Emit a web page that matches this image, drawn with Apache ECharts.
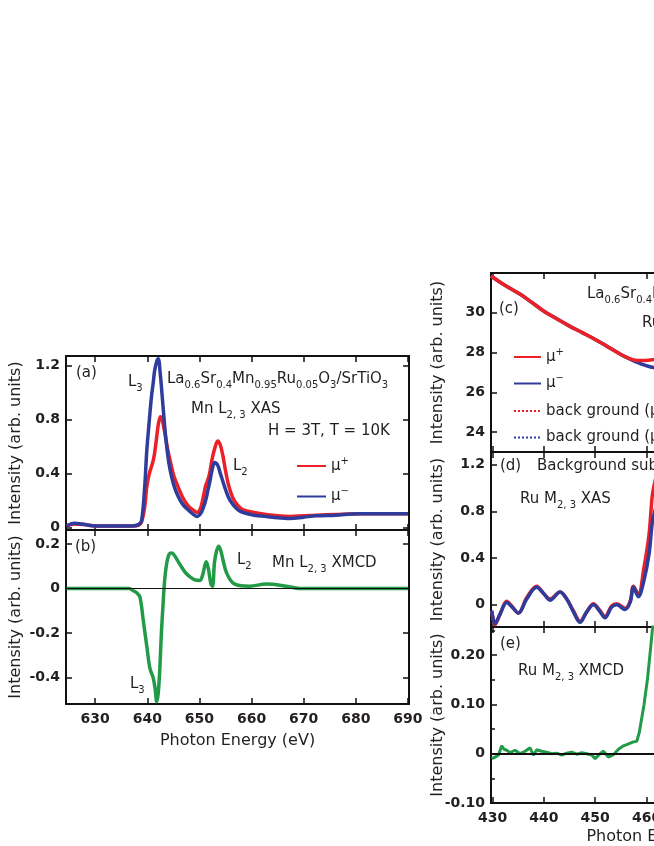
<!DOCTYPE html>
<html><head><meta charset="utf-8">
<script src="https://cdn.jsdelivr.net/npm/echarts@6/dist/echarts.min.js"></script>
<style>html,body{margin:0;padding:0;background:#fff}#c{width:654px;height:846px}</style>
</head><body><div id="c"></div>
<script>
// ---------------- data ----------------
// (a) Mn L2,3 XAS
const mnEnergy = [624.5,626,628,630,634,637,638.3,638.9,639.5,639.9,640.4,640.8,641.1,641.4,641.8,642.1,642.5,642.9,643.4,643.9,644.4,645.1,645.9,646.8,647.8,648.7,649.6,650.2,650.7,651.2,651.6,652.0,652.4,652.9,653.5,654.0,654.5,655.0,655.6,656.4,657.4,658.4,660.5,662.8,665,667.3,670,672.4,676,680.7,685,690];
const mnMuPlus  = [0.01,0.025,0.02,0.01,0.01,0.01,0.015,0.04,0.15,0.30,0.40,0.45,0.49,0.55,0.67,0.76,0.82,0.79,0.69,0.58,0.49,0.38,0.30,0.22,0.16,0.13,0.11,0.14,0.22,0.31,0.35,0.41,0.50,0.58,0.64,0.61,0.53,0.42,0.31,0.22,0.16,0.13,0.11,0.095,0.085,0.08,0.085,0.09,0.095,0.10,0.10,0.10];
const mnMuMinus = [0.01,0.03,0.02,0.01,0.01,0.01,0.02,0.05,0.30,0.57,0.80,0.97,1.06,1.16,1.23,1.25,1.13,0.95,0.72,0.54,0.42,0.31,0.23,0.17,0.13,0.10,0.08,0.10,0.14,0.20,0.27,0.34,0.42,0.48,0.46,0.40,0.34,0.28,0.22,0.17,0.13,0.11,0.09,0.08,0.07,0.065,0.075,0.085,0.09,0.10,0.10,0.10];
// (b) Mn L2,3 XMCD
const mnXmcdEnergy = [624.5,630,636.5,637.3,638.0,638.6,639.2,639.9,640.5,641.1,641.5,641.8,642.1,642.4,642.7,643.0,643.3,643.7,644.2,644.7,645.3,646.2,647.5,649.0,650.1,650.6,651.0,651.3,651.7,652.2,652.5,652.9,653.3,653.7,654.1,654.6,655.2,656.4,658,659.6,662.8,666.7,669.2,680,690];
const mnXmcd = [0,0,0,-0.01,-0.02,-0.04,-0.14,-0.26,-0.36,-0.40,-0.45,-0.51,-0.47,-0.36,-0.20,-0.08,0.03,0.11,0.155,0.16,0.145,0.11,0.066,0.04,0.036,0.06,0.10,0.12,0.09,0.02,0.01,0.12,0.17,0.19,0.17,0.12,0.07,0.025,0.012,0.01,0.02,0.01,0,0,0];
// (c) Ru M2,3 raw XAS and background
const ruEnergy = [429.7,432,435.4,437.5,440,442.5,445,447.5,450,452.5,455,456.5,457.5,459,460.5,461.5,462.5];
const ruRawPlus  = [31.85,31.45,30.93,30.55,30.08,29.7,29.33,29.0,28.66,28.28,27.9,27.72,27.63,27.6,27.62,27.65,27.75];
const ruRawMinus = [31.85,31.45,30.93,30.55,30.08,29.7,29.33,29.0,28.66,28.28,27.9,27.7,27.58,27.42,27.3,27.25,27.3];
const ruBgPlus   = [31.85,31.45,30.93,30.55,30.08,29.7,29.33,29.0,28.66,28.28,27.9,27.73,27.62,27.46,27.3,27.2,27.1];
const ruBgMinus  = [31.84,31.44,30.92,30.54,30.07,29.69,29.32,28.99,28.65,28.27,27.89,27.72,27.61,27.45,27.29,27.19,27.09];
// (d) background subtracted Ru M2,3 XAS
const ruSubEnergy = [429.84,430.49,431.46,432.76,433.73,435.03,436.65,438.6,439.9,441.2,443.15,444.45,445.75,447.05,448.35,449.65,450.95,451.9,453.2,454.2,455.8,456.8,457.45,458.4,459.5,460.5,461.1,461.6,462.2];
const ruSubPlus  = [-0.05,-0.17,-0.08,0.03,-0.01,-0.07,0.06,0.16,0.10,0.05,0.11,0.05,-0.05,-0.14,-0.06,0.01,-0.05,-0.10,-0.01,0.01,-0.03,0.03,0.16,0.09,0.32,0.61,0.93,1.05,1.15];
const ruSubMinus = [-0.05,-0.16,-0.08,0.02,-0.015,-0.07,0.05,0.15,0.10,0.04,0.11,0.05,-0.06,-0.15,-0.06,0.0,-0.06,-0.11,-0.02,0.0,-0.04,0.02,0.15,0.07,0.21,0.44,0.70,0.80,0.90];
// (e) Ru M2,3 XMCD
const ruXmcdEnergy = [429.84,430.49,431.14,431.79,432.24,432.76,433.41,434.39,435.36,436.34,437.31,437.96,438.61,439.58,440.56,441.53,442.51,443.48,444.46,445.43,446.41,447.38,448.36,449.33,449.98,450.96,451.6,452.58,453.55,454.53,455.5,456.48,457.45,458.1,458.6,459.5,460.2,460.8,461.3,461.8];
const ruXmcd = [-0.01,-0.007,-0.003,0.016,0.009,0.007,0.002,0.007,0,0.005,0.012,-0.003,0.008,0.005,0.003,0,0.001,-0.003,0.001,0.003,-0.001,0.002,0,-0.003,-0.01,0,0.005,-0.007,-0.002,0.009,0.016,0.02,0.024,0.025,0.044,0.099,0.153,0.215,0.27,0.32];
// tick values
const mnEnergyTicks = [630,640,650,660,670,680,690];
const ruEnergyTicks = [430,440,450,460,470,480,490];
const ticksA = [0,0.4,0.8,1.2];
const ticksB = [-0.4,-0.2,0,0.2];
const ticksC = [24,26,28,30];
const ticksD = [0,0.4,0.8,1.2];
const ticksE = [-0.1,0,0.1,0.2];
const minorE = [-0.05,0.05,0.15,0.25];

// ---------------- styling ----------------
const FF = 'DejaVu Sans';
const INK = '#231f20';
const RED = '#ec2027', BLUE = '#2e3d9c', GREEN = '#229a48';
const zip = (xs, ys) => xs.map((x, i) => [x, ys[i]]);

const gridsDef = [
  {left: 66, top: 356, width: 343, height: 174},   // a
  {left: 66, top: 530, width: 343, height: 174},   // b
  {left: 491, top: 273, width: 346, height: 179},  // c (continues past the page edge)
  {left: 491, top: 452, width: 346, height: 175},  // d
  {left: 491, top: 627, width: 346, height: 176}   // e
].map(g => Object.assign(g, {outerBoundsMode: 'none', containLabel: false}));
const xRange = [[624.4, 690.2], [624.4, 690.2], [429.7, 497.1], [429.7, 497.1], [429.7, 497.1]];
const yRange = [[-0.02, 1.27], [-0.52, 0.263], [23, 32], [-0.19, 1.31], [-0.1, 0.257]];
const yTicks = [ticksA, ticksB, ticksC, ticksD, ticksE];
const yFmt = [
  v => v === 0 ? '0' : v.toFixed(1),
  v => v === 0 ? '0' : v.toFixed(1),
  v => String(Math.round(v)),
  v => v === 0 ? '0' : v.toFixed(1),
  v => v === 0 ? '0' : v.toFixed(2)
];
const labelFont = {fontFamily: FF, fontSize: 14, fontWeight: 'bold', color: INK};
const nameFont = {fontFamily: FF, fontSize: 16, color: INK};
const lineAx = {show: true, onZero: false, lineStyle: {color: '#111', width: 2}};

const xAxes = [], yAxes = [];
gridsDef.forEach((g, i) => {
  const xt = i < 2 ? mnEnergyTicks : ruEnergyTicks;
  const bottomLabels = (i === 1 || i === 4);
  ['bottom', 'top'].forEach(pos => {
    const named = pos === 'bottom' && bottomLabels;
    xAxes.push({
      type: 'value', gridIndex: i, position: pos, min: xRange[i][0], max: xRange[i][1],
      axisLine: lineAx,
      axisTick: {show: true, inside: true, length: 6, lineStyle: {color: '#111', width: 1.5}, customValues: xt},
      axisLabel: {show: named, customValues: xt, margin: 8, showMinLabel: true, showMaxLabel: true, hideOverlap: false, ...labelFont},
      splitLine: {show: false},
      name: named ? 'Photon Energy (eV)' : '',
      nameLocation: 'middle', nameGap: i === 1 ? 29 : 26, nameMoveOverlap: false, nameTextStyle: nameFont
    });
  });
  ['left', 'right'].forEach(pos => {
    yAxes.push({
      type: 'value', gridIndex: i, position: pos, min: yRange[i][0], max: yRange[i][1],
      axisLine: lineAx,
      axisTick: {show: true, inside: true, length: 6, lineStyle: {color: '#111', width: 1.5}, customValues: yTicks[i]},
      axisLabel: {show: pos === 'left', customValues: yTicks[i], formatter: yFmt[i], margin: 6, showMinLabel: true, showMaxLabel: true, hideOverlap: false, ...labelFont},
      splitLine: {show: false},
      name: pos === 'left' ? 'Intensity (arb. units)' : '',
      nameLocation: 'middle', nameGap: i < 2 ? 42 : 45, nameMoveOverlap: false, nameTextStyle: nameFont
    });
  });
});
// minor ticks on panel (e)
yAxes.push({
  type: 'value', gridIndex: 4, position: 'left', min: yRange[4][0], max: yRange[4][1],
  axisLine: {show: false},
  axisTick: {show: true, inside: true, length: 4, lineStyle: {color: '#111', width: 1.5}, customValues: minorE},
  axisLabel: {show: false}, splitLine: {show: false}
});
const xi = g => g * 2;      // bottom x axis index of grid g
const yi = g => g * 2;      // left y axis index of grid g

const lineSeries = (name, g, data, color, width, extra) => Object.assign({
  name, type: 'line', xAxisIndex: xi(g), yAxisIndex: yi(g), data,
  showSymbol: false, symbol: 'none', smooth: 0.35,
  lineStyle: {color, width}, itemStyle: {color}, emphasis: {disabled: true}
}, extra || {});

const zeroLine = w => ({silent: true, symbol: 'none', label: {show: false},
  lineStyle: {color: '#111', width: w, type: 'solid'}, data: [{yAxis: 0}]});

const series = [
  lineSeries('muPlusMn', 0, zip(mnEnergy, mnMuPlus), RED, 3.5),
  lineSeries('muMinusMn', 0, zip(mnEnergy, mnMuMinus), BLUE, 3.5),
  lineSeries('xmcdMn', 1, zip(mnXmcdEnergy, mnXmcd), GREEN, 3.5, {markLine: zeroLine(1.2), z: 3}),
  lineSeries('bgPlus', 2, zip(ruEnergy, ruBgPlus), RED, 2, {lineStyle: {color: RED, width: 2, type: 'dotted'}}),
  lineSeries('bgMinus', 2, zip(ruEnergy, ruBgMinus), BLUE, 2, {lineStyle: {color: BLUE, width: 2, type: 'dotted'}}),
  lineSeries('muMinusRu', 2, zip(ruEnergy, ruRawMinus), BLUE, 3.5),
  lineSeries('muPlusRu', 2, zip(ruEnergy, ruRawPlus), RED, 3.5),
  lineSeries('subPlus', 3, zip(ruSubEnergy, ruSubPlus), RED, 3.5),
  lineSeries('subMinus', 3, zip(ruSubEnergy, ruSubMinus), BLUE, 3.5),
  lineSeries('xmcdRu', 4, zip(ruXmcdEnergy, ruXmcd), GREEN, 3, {smooth: false, markLine: zeroLine(2)})
];

const legendRich = {
  n: {fontFamily: FF, fontSize: 15, color: INK, lineHeight: 20, verticalAlign: 'middle'},
  p: {fontFamily: FF, fontSize: 10, color: INK, lineHeight: 10, verticalAlign: 'top'}
};
const legendText = {
  muPlusMn: '{n|μ}{p|+}', muMinusMn: '{n|μ}{p|−}',
  muPlusRu: '{n|μ}{p|+}', muMinusRu: '{n|μ}{p|−}',
  bgPlus: '{n|back ground (μ}{p|+}{n|)}', bgMinus: '{n|back ground (μ}{p|−}{n|)}'
};
const mkLegend = (names, left, top, itemWidth, gap) => ({
  data: names, left, top, orient: 'vertical', itemWidth, itemHeight: 14, itemGap: gap,
  selectedMode: false, padding: 0, formatter: n => legendText[n],
  itemStyle: {opacity: 0},
  textStyle: {rich: legendRich, padding: [0, 0, 0, 0]}
});

// ---------------- annotations ----------------
const rich = {
  n: {fontFamily: FF, fontSize: 15, fill: INK, lineHeight: 22, verticalAlign: 'middle'},
  s: {fontFamily: FF, fontSize: 10, fill: INK, lineHeight: 10, verticalAlign: 'bottom'}
};
const compound = '{n|La}{s|0.6}{n|Sr}{s|0.4}{n|Mn}{s|0.95}{n|Ru}{s|0.05}{n|O}{s|3}{n|/SrTiO}{s|3}';
const notes = [
  ['{n|(a)}', 76, 373], ['{n|L}{s|3}', 128, 382], [compound, 167, 379],
  ['{n|Mn L}{s|2, 3}{n| XAS}', 191, 409], ['{n|H = 3T, T = 10K}', 268, 431], ['{n|L}{s|2}', 233, 466],
  ['{n|(b)}', 75, 547], ['{n|L}{s|2}', 237, 560], ['{n|Mn L}{s|2, 3}{n| XMCD}', 272, 563], ['{n|L}{s|3}', 130, 684],
  ['{n|(c)}', 499, 309], [compound, 587, 294], ['{n|Ru M}{s|2, 3}{n| XAS}', 642, 323],
  ['{n|(d)}', 500, 466], ['{n|Background subtracted}', 537, 466], ['{n|Ru M}{s|2, 3}{n| XAS}', 520, 499],
  ['{n|(e)}', 500, 644], ['{n|Ru M}{s|2, 3}{n| XMCD}', 518, 671]
];
const graphic = notes.map(([t, x, y]) => ({
  type: 'text', x, y, silent: true, z: 100,
  style: {text: t, rich, fill: INK, fontFamily: FF, fontSize: 15, verticalAlign: 'middle', align: 'left'}
}));

const chart = echarts.init(document.getElementById('c'), null, {renderer: 'canvas'});
chart.setOption({
  animation: false,
  backgroundColor: '#fff',
  grid: gridsDef,
  xAxis: xAxes,
  yAxis: yAxes,
  legend: [
    mkLegend(['muPlusMn', 'muMinusMn'], 296, 456, 29, 13),
    mkLegend(['muPlusRu', 'muMinusRu'], 513, 347, 27, 9),
    mkLegend(['bgPlus', 'bgMinus'], 513, 401, 27, 9)
  ],
  series,
  graphic
});
</script></body></html>
